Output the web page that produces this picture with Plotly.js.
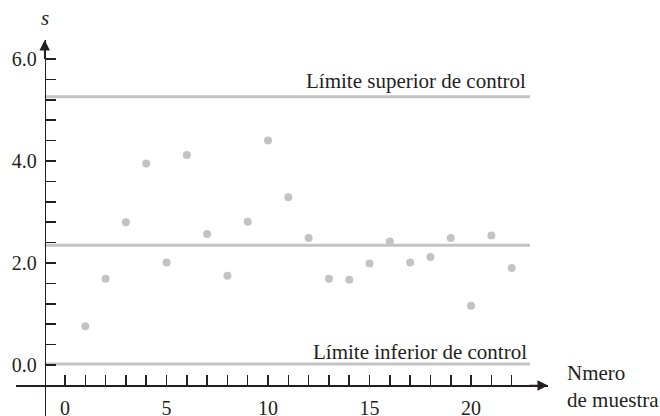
<!DOCTYPE html>
<html>
<head>
<meta charset="utf-8">
<script src="https://cdn.plot.ly/plotly-3.0.1.min.js"></script>
<style>html,body{margin:0;padding:0;background:#fff;}#chart{width:660px;height:416px;}</style>
</head>
<body>
<div id="chart"></div>
<script>
// Data
const sampleNumbers = [1,2,3,4,5,6,7,8,9,10,11,12,13,14,15,16,17,18,19,20,21,22];
const sValues = [0.76,1.69,2.80,3.95,2.01,4.12,2.57,1.75,2.81,4.40,3.29,2.49,1.69,1.67,1.99,2.42,2.01,2.12,2.49,1.16,2.54,1.90];
const upperControlLimit = 5.26;
const centerLine = 2.35;
const lowerControlLimit = 0.02;
const upperLabel = 'Límite superior de control';
const lowerLabel = 'Límite inferior de control';
const xTitle = 'Nmero<br>de muestra';
const yTitle = '<i>s</i>';
const xTickVals = [0,5,10,15,20];
const xMinorVals = [1,2,3,4,6,7,8,9,11,12,13,14,16,17,18,19,21,22];
const yTickVals = [0,2,4,6];
const yMinorVals = [0.4,0.8,1.2,1.6,2.4,2.8,3.2,3.6,4.4,4.8,5.2,5.6];

const ink = '#231f20';
const grey = '#c3c3c3';
const font = 'Liberation Serif, Times New Roman, serif';

const xr = [-2.414, 23.79];
const yr = [-1.0, 6.373];
const yAxisAt = -1;     // x value where vertical axis sits
const xAxisAt = -0.4;   // y value where horizontal axis sits
const lineEnd = 22.9;

const trace = {
  x: sampleNumbers, y: sValues, type: 'scatter', mode: 'markers',
  marker: {size: 8, color: grey}, hoverinfo: 'skip', cliponaxis: false
};

function hline(v){
  return {type:'line', xref:'x', yref:'y', x0:yAxisAt, x1:lineEnd, y0:v, y1:v,
          line:{color:grey, width:3}, layer:'below'};
}

const layout = {
  width: 660, height: 416,
  margin: {l:16, r:112, t:40, b:0},
  paper_bgcolor:'#fff', plot_bgcolor:'#fff',
  showlegend:false,
  font:{family:font, size:20, color:ink},
  xaxis:{
    range: xr, anchor:'free', position:(xAxisAt-yr[0])/(yr[1]-yr[0]),
    showgrid:false, zeroline:false, showline:true, linecolor:ink, linewidth:1.5,
    tickmode:'array', tickvals:xTickVals, ticks:'inside', ticklen:10, tickwidth:1.5, tickcolor:ink,
    ticklabelstandoff: 4,
    minor:{tickmode:'array', tickvals:xMinorVals, ticks:'inside', ticklen:10, tickwidth:1.5, tickcolor:ink, showgrid:false},
    tickfont:{family:font, size:20, color:ink}
  },
  yaxis:{
    range: yr, anchor:'free', position:(yAxisAt-xr[0])/(xr[1]-xr[0]),
    showgrid:false, zeroline:false, showline:true, linecolor:ink, linewidth:1.5,
    tickmode:'array', tickvals:yTickVals, tickformat:'.1f', ticks:'inside', ticklen:10, tickwidth:1.5, tickcolor:ink,
    ticklabelstandoff: 4,
    minor:{tickmode:'array', tickvals:yMinorVals, ticks:'inside', ticklen:10, tickwidth:1.5, tickcolor:ink, showgrid:false},
    tickfont:{family:font, size:20, color:ink}
  },
  shapes:[hline(upperControlLimit), hline(centerLine), hline(lowerControlLimit)],
  annotations:[
    {xref:'x', yref:'y', x:lineEnd-0.1, y:upperControlLimit+0.31, text:upperLabel, showarrow:false,
     xanchor:'right', yanchor:'middle', font:{family:font, size:21, color:ink}},
    {xref:'x', yref:'y', x:lineEnd-0.04, y:lowerControlLimit+0.24, text:lowerLabel, showarrow:false,
     xanchor:'right', yanchor:'middle', font:{family:font, size:21, color:ink}},
    {xref:'paper', yref:'paper', x:1.032, y:0.078, text:xTitle, showarrow:false, align:'left',
     xanchor:'left', yanchor:'middle', font:{family:font, size:21, color:ink}},
    {xref:'x', yref:'paper', x:yAxisAt, y:1.0585, text:yTitle, showarrow:false,
     xanchor:'center', yanchor:'middle', font:{family:font, size:21, color:ink}},
    // arrow heads
    {xref:'x', yref:'y', axref:'x', ayref:'y', x:yAxisAt, y:yr[1], ax:yAxisAt, ay:yr[1]-0.4,
     text:'', showarrow:true, arrowhead:2, arrowsize:1.4, arrowwidth:1.5, arrowcolor:ink, standoff:0},
    {xref:'x', yref:'y', axref:'x', ayref:'y', x:xr[1], y:xAxisAt, ax:xr[1]-1, ay:xAxisAt,
     text:'', showarrow:true, arrowhead:2, arrowsize:1.4, arrowwidth:1.5, arrowcolor:ink, standoff:0}
  ]
};

Plotly.newPlot('chart', [trace], layout, {staticPlot:true, displayModeBar:false});
</script>
</body>
</html>
